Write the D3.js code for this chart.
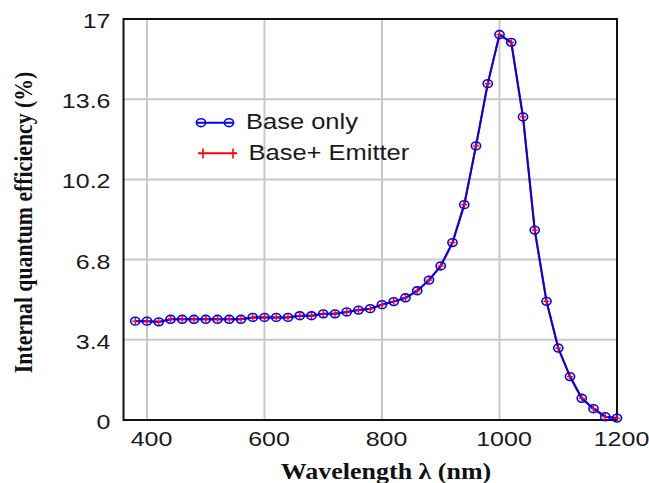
<!DOCTYPE html>
<html>
<head>
<meta charset="utf-8">
<script src="https://cdn.jsdelivr.net/npm/d3@7"></script>
<style>
  html, body { margin: 0; padding: 0; background: #fff; }
  svg { display: block; }
</style>
</head>
<body>
<svg id="chart" width="649" height="483"></svg>
<script>
// Wavelength samples (nm)
const wavelengths = [380, 400, 420, 440, 460, 480, 500, 520, 540, 560,
                     580, 600, 620, 640, 660, 680, 700, 720, 740, 760,
                     780, 800, 820, 840, 860, 880, 900, 920, 940, 960,
                     980, 1000, 1020, 1040, 1060, 1080, 1100, 1120, 1140, 1160,
                     1180, 1200];

// Internal quantum efficiency (%), base region only
const baseOnly = [4.19, 4.19, 4.16, 4.27, 4.27, 4.27, 4.27, 4.27, 4.27, 4.27,
                  4.35, 4.35, 4.35, 4.35, 4.42, 4.42, 4.50, 4.50, 4.58, 4.66,
                  4.72, 4.89, 5.02, 5.18, 5.48, 5.93, 6.53, 7.52, 9.13, 11.62,
                  14.26, 16.34, 16.01, 12.85, 8.05, 5.03, 3.05, 1.84, 0.92, 0.48,
                  0.14, 0.08];

// Internal quantum efficiency (%), base + emitter
const baseEmitter = [4.19, 4.19, 4.16, 4.27, 4.27, 4.27, 4.27, 4.27, 4.27, 4.27,
                     4.35, 4.35, 4.35, 4.35, 4.42, 4.42, 4.50, 4.50, 4.58, 4.66,
                     4.72, 4.89, 5.02, 5.18, 5.48, 5.93, 6.53, 7.52, 9.13, 11.62,
                     14.26, 16.34, 16.01, 12.85, 8.05, 5.03, 3.05, 1.84, 0.92, 0.48,
                     0.14, 0.08];

const xTicks = [400, 600, 800, 1000, 1200];
const yTicks = [0, 3.4, 6.8, 10.2, 13.6, 17];
const seriesNames = ["Base only", "Base+ Emitter"];

const svg = d3.select("#chart");
const x = d3.scaleLinear().domain([360, 1200]).range([123.5, 617]);
const y = d3.scaleLinear().domain([0, 17]).range([420, 19]);

const sans = "'Liberation Sans', Arial, sans-serif";
const serif = "'Liberation Serif', 'Times New Roman', serif";

// grid
const grid = svg.append("g");
grid.selectAll("line.vx").data(xTicks.filter(t => t < 1200)).join("line")
  .attr("x1", d => x(d)).attr("x2", d => x(d))
  .attr("y1", y(17)).attr("y2", y(0))
  .attr("stroke", "#c8c8c8").attr("stroke-width", 2);
grid.selectAll("line.hy").data(yTicks.filter(t => t > 0 && t < 17)).join("line")
  .attr("x1", x(360)).attr("x2", x(1200))
  .attr("y1", d => y(d)).attr("y2", d => y(d))
  .attr("stroke", "#c8c8c8").attr("stroke-width", 2);

// axes (labels only, frame drawn separately)
const xAxis = svg.append("g")
  .attr("transform", `translate(0,${y(0)})`)
  .call(d3.axisBottom(x).tickValues(xTicks).tickSize(0).tickFormat(d3.format("d")));
xAxis.select(".domain").remove();
xAxis.selectAll("text")
  .attr("y", 0).attr("dy", null)
  .attr("transform", "translate(4,25.5) scale(1,0.84)")
  .attr("font-family", sans).attr("font-size", 25).attr("fill", "#1a1a1a");

const yAxis = svg.append("g")
  .attr("transform", `translate(${x(360)},0)`)
  .call(d3.axisLeft(y).tickValues(yTicks).tickSize(0).tickFormat(d => d === 0 ? "0" : d3.format("")(d)));
yAxis.select(".domain").remove();
yAxis.selectAll("text")
  .attr("x", 0).attr("dy", null)
  .attr("transform", "translate(-13,8.5) scale(1,0.84)")
  .attr("font-family", sans).attr("font-size", 25).attr("fill", "#1a1a1a");

// frame
svg.append("rect")
  .attr("x", x(360)).attr("y", y(17))
  .attr("width", x(1200) - x(360)).attr("height", y(0) - y(17))
  .attr("fill", "none").attr("stroke", "#111").attr("stroke-width", 2);

// series
const emitterPts = wavelengths.map((w, i) => [w, baseEmitter[i]]);
const basePts = wavelengths.map((w, i) => [w, baseOnly[i]]);
const line = d3.line().x(d => x(d[0])).y(d => y(d[1]));

svg.append("path").datum(emitterPts)
  .attr("d", line).attr("fill", "none").attr("stroke", "#ff0000").attr("stroke-width", 2);
svg.append("path").datum(basePts)
  .attr("d", line).attr("fill", "none").attr("stroke", "#0000ff").attr("stroke-width", 2);

svg.append("g").selectAll("ellipse").data(basePts).join("ellipse")
  .attr("cx", d => x(d[0])).attr("cy", d => y(d[1]))
  .attr("rx", 4.6).attr("ry", 3.9)
  .attr("fill", "none").attr("stroke", "#0000ff").attr("stroke-width", 1.6);

function plus(g, cx, cy, h, w) {
  g.append("line").attr("x1", cx).attr("x2", cx).attr("y1", cy - h).attr("y2", cy + h)
    .attr("stroke", "#ff0000").attr("stroke-width", 1.3);
  g.append("line").attr("x1", cx - w).attr("x2", cx + w).attr("y1", cy).attr("y2", cy)
    .attr("stroke", "#ff0000").attr("stroke-width", 1.3);
}
const plusG = svg.append("g");
emitterPts.forEach(d => plus(plusG, x(d[0]), y(d[1]), 3.2, 3));

// legend
const lg = svg.append("g");
lg.append("line").attr("x1", 197).attr("x2", 234).attr("y1", 122.7).attr("y2", 122.7)
  .attr("stroke", "#0000ff").attr("stroke-width", 2);
[201, 229].forEach(cx => lg.append("ellipse").attr("cx", cx).attr("cy", 122.7)
  .attr("rx", 4.6).attr("ry", 3.9).attr("fill", "none")
  .attr("stroke", "#0000ff").attr("stroke-width", 1.6));
lg.append("line").attr("x1", 198).attr("x2", 237).attr("y1", 153.3).attr("y2", 153.3)
  .attr("stroke", "#ff0000").attr("stroke-width", 2);
[203, 233].forEach(cx => lg.append("line").attr("x1", cx).attr("x2", cx)
  .attr("y1", 148.5).attr("y2", 158.5).attr("stroke", "#ff0000").attr("stroke-width", 1.6));

lg.selectAll("g.item").data(seriesNames).join("g")
  .attr("transform", (d, i) => `translate(${i ? 248.5 : 246},${i ? 159.5 : 128.5}) scale(1,0.86)`)
  .append("text").text(d => d)
  .attr("font-family", sans).attr("font-size", 25.5).attr("fill", "#1a1a1a");

// axis titles
svg.append("g").attr("transform", "translate(386,479) scale(1,0.87)")
  .append("text").text("Wavelength λ (nm)")
  .attr("text-anchor", "middle").attr("font-family", serif)
  .attr("font-weight", "bold").attr("font-size", 26).attr("fill", "#111");

svg.append("g").attr("transform", "translate(31.5,222.5) rotate(-90) scale(0.87,1)")
  .append("text").text("Internal quantum efficiency (%)")
  .attr("text-anchor", "middle").attr("font-family", serif)
  .attr("font-weight", "bold").attr("font-size", 25).attr("fill", "#111");
</script>
</body>
</html>
